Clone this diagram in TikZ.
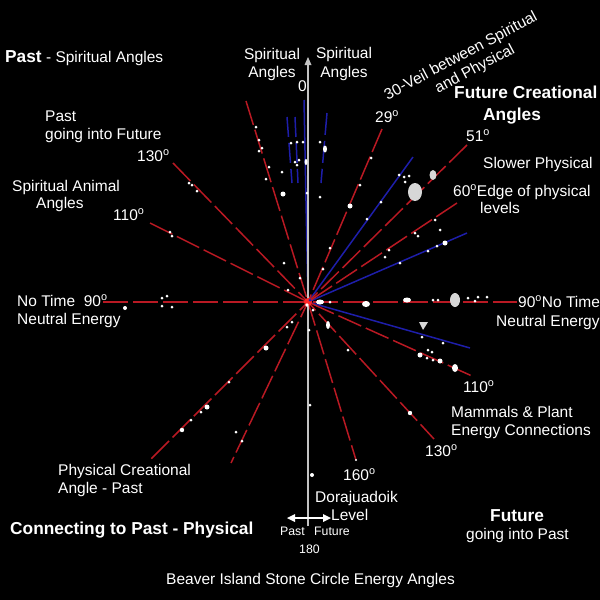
\documentclass[tikz,border=0pt]{standalone}
\usepackage{fontspec}
\setmainfont{Liberation Sans}
\usetikzlibrary{calc}
\definecolor{rayred}{RGB}{185,25,35}
\definecolor{rayblue}{RGB}{30,30,170}
\definecolor{axisgray}{RGB}{195,195,195}
\definecolor{stonegray}{RGB}{215,215,215}
\newcommand{\dego}{\textsuperscript{o}}
\begin{document}
\begin{tikzpicture}[x=1pt,y=1pt]
\tikzstyle{every node}+=[inner sep=0pt, text=white]
\tikzstyle{lbl}=[font=\fontsize{15.5}{18}\selectfont, anchor=base west]
\tikzstyle{lblc}=[font=\fontsize{15.5}{18}\selectfont, anchor=base]
\tikzstyle{bold}=[font=\bfseries\fontsize{17.3}{20}\selectfont, anchor=base west]
\tikzstyle{tiny}=[font=\fontsize{12.3}{14}\selectfont, anchor=base west]
\tikzstyle{redray}=[draw=rayred, line width=1.5pt, dash pattern=on 25pt off 5pt]
\tikzstyle{blueray}=[draw=rayblue, line width=1.5pt]
\fill [black] (0,0) rectangle (600,-600);
\useasboundingbox (0,0) rectangle (600,-600);
% centre and ray ends
\coordinate (c) at (308,-302);
\coordinate (u160) at (246,-101);
\coordinate (d160) at (356,-460);
\coordinate (u130) at (173,-163);
\coordinate (d130) at (434,-439);
\coordinate (u110) at (150,-223);
\coordinate (d110) at (472,-376);
\coordinate (w90) at (103,-302);
\coordinate (e90) at (517,-302);
\coordinate (u29) at (382,-129);
\coordinate (d29) at (231,-463);
\coordinate (u51) at (467,-145);
\coordinate (d51) at (151,-459);
\coordinate (u60) at (457,-203);
\coordinate (bl0) at (304,-100);
\coordinate (bl1) at (413,-157);
\coordinate (bl2) at (467,-233);
\coordinate (bl3) at (470,-348);
\coordinate (bu1) at (287,-117);
\coordinate (bd1) at (292,-183);
\coordinate (bu2) at (295,-117);
\coordinate (bd2) at (298,-183);
\coordinate (bu3) at (327,-113);
\coordinate (bd3) at (321,-183);
\coordinate (top) at (308,-57);
\coordinate (bot) at (308,-526);
\coordinate (pl) at (287,-518);
\coordinate (fr) at (331,-518);
% blue rays
\draw [blueray] (c) -- (bl0);
\draw [blueray] (c) -- (bl1);
\draw [blueray] (c) -- (bl2);
\draw [blueray] (c) -- (bl3);
\draw [blueray, dash pattern=on 20pt off 6pt] (bu1) -- (bd1);
\draw [blueray, dash pattern=on 20pt off 6pt] (bu2) -- (bd2);
\draw [blueray, dash pattern=on 22pt off 6pt] (bu3) -- (bd3);
% red rays
\draw [redray] (u160) -- (c) -- (d160);
\draw [redray] (u130) -- (c) -- (d130);
\draw [redray] (u110) -- (c) -- (d110);
\draw [redray] (w90) -- (c) -- (e90);
\draw [redray] (u29) -- (c) -- (d29);
\draw [redray] (u51) -- (c) -- (d51);
\draw [redray] (u60) -- (c);
% axis
\draw [axisgray, line width=1.5pt] (bot) -- ($(top)+(0,-7)$);
\fill [axisgray] (top) -- ++(-3.5,-8) -- ++(7,0);
\draw [white, line width=1.2pt] ($(pl)+(6,0)$) -- ($(fr)+(-6,0)$);
\fill [white] (pl) -- ++(8,4) -- ++(0,-8);
\fill [white] (fr) -- ++(-8,4) -- ++(0,-8);
% stones
\fill [white] (256,-127) circle (1.5) (259,-140) circle (1.5) (262,-148) circle (1.5)
  (259,-151) circle (1.5) (269,-167) circle (1.5) (266,-179) circle (1.5) (282,-172) circle (1.5)
  (291,-143) circle (1.5) (297,-142) circle (1.5) (303,-142) circle (1.5) (295,-162) circle (1.5)
  (299,-160) circle (1.5) (297,-165) circle (1.5) (320,-142) circle (1.5) (307,-193) circle (1.5)
  (320,-197) circle (1.5) (360,-185) circle (1.5) (371,-158) circle (1.5) (399,-175) circle (1.5)
  (404,-177) circle (1.5) (409,-176) circle (1.5) (405,-182) circle (1.5) (381,-202) circle (1.5)
  (367,-219) circle (1.5) (435,-220) circle (1.5) (440,-230) circle (1.5) (415,-233) circle (1.5)
  (418,-236) circle (1.5) (437,-246) circle (1.5) (389,-250) circle (1.5) (385,-257) circle (1.5)
  (428,-251) circle (1.5) (400,-263) circle (1.5) (330,-248) circle (1.5) (323,-269) circle (1.5)
  (300,-278) circle (1.5) (284,-263) circle (1.5) (288,-290) circle (1.5) (287,-327) circle (1.5)
  (292,-322) circle (1.5) (229,-382) circle (1.5) (201,-412) circle (1.5) (191,-420) circle (1.5)
  (236,-432) circle (1.5) (242,-441) circle (1.5) (309,-330) circle (1.5) (313,-310) circle (1.5)
  (348,-350) circle (1.5) (310,-405) circle (1.5) (330,-302) circle (1.5) (433,-300) circle (1.5)
  (438,-300) circle (1.5) (468,-298) circle (1.5) (475,-301) circle (1.5) (478,-297) circle (1.5)
  (487,-297) circle (1.5) (422,-337) circle (1.5) (443,-343) circle (1.5) (428,-350) circle (1.5)
  (432,-352) circle (1.5) (427,-358) circle (1.5) (433,-360) circle (1.5) (356,-460) circle (1.2)
  (170,-232) circle (1.5) (172,-236) circle (1.5) (189,-183) circle (1.5) (192,-185) circle (1.5)
  (197,-191) circle (1.5) (162,-298) circle (1.5) (167,-296) circle (1.5) (162,-306) circle (1.5)
  (172,-307) circle (1.5) (125,-308) circle (2);
\fill [white] (283,-194) circle (2.5) (350,-206) circle (2.5) (445,-243) circle (2.5)
  (266,-348) circle (2.5) (207,-407) circle (2.5) (182,-430) circle (2.2) (410,-413) circle (2.2)
  (312,-475) circle (2) (420,-355) circle (2.5) (440,-361) circle (2.5);
\fill [white] (320,-302) ellipse (4 and 2.5) (366,-304) ellipse (4 and 3) (407,-300) ellipse (4 and 2.5)
  (325,-149) ellipse (2 and 3.5) (306,-162) ellipse (1.5 and 3) (328,-325) ellipse (2 and 4)
  (455,-368) ellipse (3 and 4);
\fill [stonegray] (415,-192) ellipse (7 and 9) (433,-175) ellipse (3.5 and 5) (455,-300) ellipse (5 and 7);
\fill [stonegray] (419,-322) -- (428,-322) -- (423,-330) -- cycle;
% centre spot
\fill [red!85!white] (c) circle (4);
\fill [rayblue] (310,-300) circle (1.5);
\fill [white] (307,-305) circle (1.8);
% labels
\draw (5,-62) node (pastsp) [lbl] {{\bfseries\fontsize{17.3}{20}\selectfont Past} - Spiritual Angles};
\draw (272,-59) node (spl1) [lblc] {Spiritual};
\draw (272,-77) node (spl2) [lblc] {Angles};
\draw (298,-91) node (zero) [lbl] {0};
\draw (344,-58) node (spr1) [lblc] {Spiritual};
\draw (344,-77) node (spr2) [lblc] {Angles};
\draw (463,-60) node (veil1) [lblc, rotate=28] {30-Veil between Spiritual};
\draw (477,-73) node (veil2) [lblc, rotate=28] {and Physical};
\draw (375,-122) node (n29) [lbl] {29\dego};
\draw (454,-98) node (fc1) [bold] {Future Creational};
\draw (483,-120) node (fc2) [bold] {Angles};
\draw (466,-141) node (n51) [lbl] {51\dego};
\draw (483,-168) node (slow) [lbl] {Slower Physical};
\draw (453,-196) node (edge1) [lbl] {60\dego Edge of physical};
\draw (480,-213) node (edge2) [lbl] {levels};
\draw (45,-121) node (pf1) [lbl] {Past};
\draw (45,-139) node (pf2) [lbl] {going into Future};
\draw (137,-161) node (n130a) [lbl] {130\dego};
\draw (12,-191) node (sa1) [lbl] {Spiritual Animal};
\draw (36,-208) node (sa2) [lbl] {Angles};
\draw (113,-220) node (n110a) [lbl] {110\dego};
\draw (17,-306) node (nt1) [lbl] {No Time\ \ 90\dego};
\draw (17,-324) node (nt2) [lbl] {Neutral Energy};
\draw (518,-307) node (nt3) [lbl] {90\dego No Time};
\draw (496,-326) node (nt4) [lbl] {Neutral Energy};
\draw (463,-392) node (n110b) [lbl] {110\dego};
\draw (451,-417) node (mp1) [lbl] {Mammals \& Plant};
\draw (451,-435) node (mp2) [lbl] {Energy Connections};
\draw (425,-456) node (n130b) [lbl] {130\dego};
\draw (343,-480) node (n160) [lbl] {160\dego};
\draw (58,-475) node (pc1) [lbl] {Physical Creational};
\draw (58,-493) node (pc2) [lbl] {Angle - Past};
\draw (10,-534) node (conn) [bold] {Connecting to Past - Physical};
\draw (315,-502) node (dor1) [lbl] {Dorajuadoik};
\draw (331,-520) node (dor2) [lbl] {Level};
\draw (280,-535) node (pastl) [tiny] {Past};
\draw (314,-535) node (futl) [tiny] {Future};
\draw (299,-553) node (n180) [tiny] {180};
\draw (490,-521) node (fut1) [bold] {Future};
\draw (466,-539) node (fut2) [lbl] {going into Past};
\draw (166,-584) node (title) [lbl] {Beaver Island Stone Circle Energy Angles};
\end{tikzpicture}
\end{document}
